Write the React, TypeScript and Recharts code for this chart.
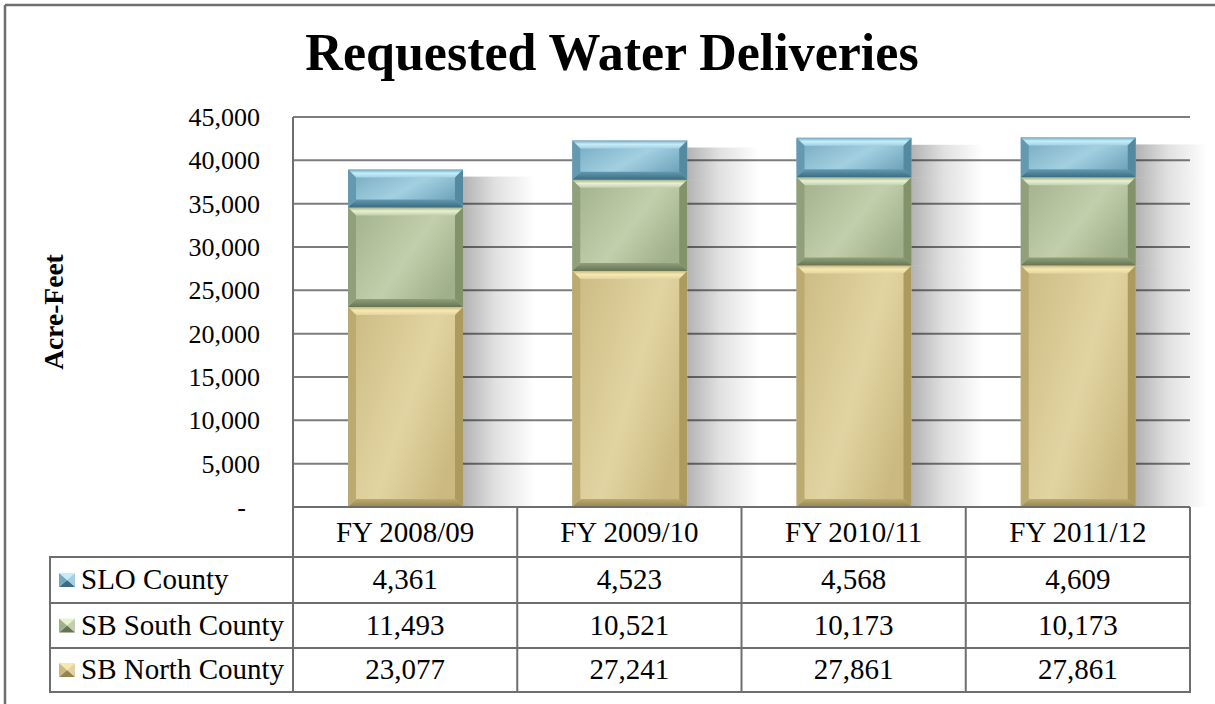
import React from 'react';
import { BarChart, Bar, XAxis, YAxis, CartesianGrid } from 'recharts';

const years = ['FY 2008/09', 'FY 2009/10', 'FY 2010/11', 'FY 2011/12'];
const sloCounty = [4361, 4523, 4568, 4609];
const sbSouthCounty = [11493, 10521, 10173, 10173];
const sbNorthCounty = [23077, 27241, 27861, 27861];
const yTicks = [0, 5000, 10000, 15000, 20000, 25000, 30000, 35000, 40000, 45000];

const FONT = '"Liberation Serif", "Times New Roman", serif';
const LINE = '#6e6e6e';

const W = 1215;
const H = 704;
const PLOT_LEFT = 293;
const PLOT_RIGHT = 1190;
const PLOT_TOP = 117;
const PLOT_BOTTOM = 507;
const X_AXIS_H = 50;

const palettes: Record<string, any> = {
  slo: { face1: '#72a7be', face2: '#a3d0e1', top: '#c6eefa', left: '#639ab1', right: '#5489a0', bottom: '#3b6c81' },
  south: { face1: '#a0b08b', face2: '#c2cfac', top: '#e8f2d2', left: '#90a07b', right: '#82926b', bottom: '#667453' },
  north: { face1: '#cbb980', face2: '#e2d4a2', top: '#f6e9af', left: '#bcaa70', right: '#ad9a5f', bottom: '#96844e' },
};

const data = years.map((year, i) => ({
  year,
  north: sbNorthCounty[i],
  south: sbSouthCounty[i],
  slo: sloCounty[i],
}));

const tableRows = [
  { key: 'slo', label: 'SLO County', values: sloCounty },
  { key: 'south', label: 'SB South County', values: sbSouthCounty },
  { key: 'north', label: 'SB North County', values: sbNorthCounty },
];

const fmt = (v: number) => v.toLocaleString('en-US');

// beveled segment, like the Excel "bevel" bar effect, with a soft shadow to the right
const bevelShape = (id: string, isTop: boolean) => (props: any) => {
  const { x, y, width: w, height: h } = props;
  if (!h || h <= 0) return <g />;
  const b = Math.min(8, h / 3);
  const sy = isTop ? y + 7 : y;
  return (
    <g>
      <rect x={x + w} y={sy} width={72} height={y + h - sy} fill="url(#shadowGrad)" />
      <rect x={x} y={y} width={w} height={h} fill={`url(#face-${id})`} />
      <polygon points={`${x},${y} ${x + w},${y} ${x + w - b},${y + b} ${x + b},${y + b}`} fill={`url(#top-${id})`} />
      <polygon points={`${x},${y} ${x + b},${y + b} ${x + b},${y + h - b} ${x},${y + h}`} fill={palettes[id].left} />
      <polygon points={`${x + w},${y} ${x + w},${y + h} ${x + w - b},${y + h - b} ${x + w - b},${y + b}`} fill={palettes[id].right} />
      <polygon points={`${x},${y + h} ${x + b},${y + h - b} ${x + w - b},${y + h - b} ${x + w},${y + h}`} fill={`url(#bot-${id})`} />
    </g>
  );
};

const YTick = (props: any) => {
  const { x, y, payload } = props;
  const zero = payload.value === 0;
  return (
    <text x={zero ? x - 14 : x} y={y} dy="0.35em" textAnchor="end" fontFamily={FONT} fontSize={26} fill="#000">
      {zero ? '-' : fmt(payload.value)}
    </text>
  );
};

const XTick = (props: any) => {
  const { x, y, payload } = props;
  return (
    <text x={x} y={y} dy={35} textAnchor="middle" fontFamily={FONT} fontSize={29} fill="#000">
      {payload.value}
    </text>
  );
};

const LegendIcon = ({ x, y, id }: { x: number; y: number; id: string }) => {
  const p = palettes[id];
  const w = 16;
  const h = 14;
  const cx = x + w / 2;
  const cy = y + h / 2;
  return (
    <g>
      <polygon points={`${x},${y} ${x + w},${y} ${cx},${cy}`} fill={p.top} />
      <polygon points={`${x + w},${y} ${x + w},${y + h} ${cx},${cy}`} fill={p.face2} />
      <polygon points={`${x},${y + h} ${x + w},${y + h} ${cx},${cy}`} fill={p.bottom} />
      <polygon points={`${x},${y} ${x},${y + h} ${cx},${cy}`} fill={p.face1} />
    </g>
  );
};

const DataTable = () => {
  const colW = (PLOT_RIGHT - PLOT_LEFT) / years.length;
  const headerTop = 508;
  const rowTops = [557, 603, 648];
  const rowBottoms = [603, 648, 692];
  const tableBottom = 692;
  return (
    <g>
      {years.map((_, i) => (
        <line key={'v' + i} x1={PLOT_LEFT + colW * (i + 1)} y1={headerTop - 1} x2={PLOT_LEFT + colW * (i + 1)} y2={tableBottom} stroke={LINE} strokeWidth={2} />
      ))}
      <line x1={PLOT_LEFT} y1={headerTop - 1} x2={PLOT_LEFT} y2={tableBottom} stroke={LINE} strokeWidth={2} />
      <line x1={50} y1={557} x2={50} y2={tableBottom} stroke={LINE} strokeWidth={2} />
      <line x1={49} y1={557} x2={PLOT_RIGHT + 1} y2={557} stroke={LINE} strokeWidth={2} />
      {rowBottoms.map((yb) => (
        <line key={'h' + yb} x1={49} y1={yb} x2={PLOT_RIGHT + 1} y2={yb} stroke={LINE} strokeWidth={2} />
      ))}
      {tableRows.map((row, r) => {
        const mid = (rowTops[r] + rowBottoms[r]) / 2;
        return (
          <g key={row.key}>
            <LegendIcon x={59} y={mid - 7} id={row.key} />
            <text x={81} y={mid + 9} fontFamily={FONT} fontSize={29} fill="#000">
              {row.label}
            </text>
            {row.values.map((v, i) => (
              <text key={i} x={PLOT_LEFT + colW * (i + 0.5)} y={mid + 9} textAnchor="middle" fontFamily={FONT} fontSize={29} fill="#000">
                {fmt(v)}
              </text>
            ))}
          </g>
        );
      })}
    </g>
  );
};

const gradDefs = (id: string) => {
  const p = palettes[id];
  return (
    <React.Fragment key={id}>
      <linearGradient id={`face-${id}`} x1="0" y1="0" x2="1" y2="0.6">
        <stop offset="0%" stopColor={p.face1} />
        <stop offset="60%" stopColor={p.face2} />
        <stop offset="100%" stopColor={p.face1} />
      </linearGradient>
      <linearGradient id={`top-${id}`} x1="0" y1="0" x2="0" y2="1">
        <stop offset="0%" stopColor={p.face1} />
        <stop offset="45%" stopColor={p.top} />
        <stop offset="100%" stopColor={p.face2} />
      </linearGradient>
      <linearGradient id={`bot-${id}`} x1="0" y1="0" x2="0" y2="1">
        <stop offset="0%" stopColor={p.left} />
        <stop offset="100%" stopColor={p.bottom} />
      </linearGradient>
    </React.Fragment>
  );
};

export default function App() {
  return (
    <div style={{ position: 'absolute', left: 0, top: 0, width: W, height: H, background: '#fff', overflow: 'hidden' }}>
      <BarChart
        width={W}
        height={H}
        data={data}
        margin={{ top: PLOT_TOP, right: W - PLOT_RIGHT, left: 0, bottom: H - PLOT_BOTTOM - X_AXIS_H }}
      >
        <defs>
          {['slo', 'south', 'north'].map(gradDefs)}
          <linearGradient id="shadowGrad" x1="0" y1="0" x2="1" y2="0">
            <stop offset="0%" stopColor="#000" stopOpacity={0.3} />
            <stop offset="45%" stopColor="#000" stopOpacity={0.12} />
            <stop offset="100%" stopColor="#000" stopOpacity={0} />
          </linearGradient>
        </defs>
        <CartesianGrid vertical={false} stroke="#7d7d7d" strokeWidth={2} />
        <XAxis
          dataKey="year"
          height={X_AXIS_H}
          axisLine={{ stroke: LINE, strokeWidth: 2 }}
          tickLine={false}
          tickSize={0}
          tickMargin={0}
          tick={<XTick />}
          interval={0}
        />
        <YAxis
          width={PLOT_LEFT}
          domain={[0, 45000]}
          ticks={yTicks}
          axisLine={{ stroke: LINE, strokeWidth: 2 }}
          tickLine={false}
          tickSize={0}
          tickMargin={33}
          tick={<YTick />}
          interval={0}
        />
        <Bar dataKey="north" stackId="a" barSize={115} shape={bevelShape('north', false)} isAnimationActive={false} />
        <Bar dataKey="south" stackId="a" barSize={115} shape={bevelShape('south', false)} isAnimationActive={false} />
        <Bar dataKey="slo" stackId="a" barSize={115} shape={bevelShape('slo', true)} isAnimationActive={false} />
      </BarChart>
      <svg width={W} height={H} style={{ position: 'absolute', left: 0, top: 0, pointerEvents: 'none' }}>
        <line x1={5} y1={5} x2={W} y2={5} stroke={LINE} strokeWidth={2.5} />
        <line x1={5} y1={5} x2={5} y2={H} stroke={LINE} strokeWidth={2.5} />
        <text x={612} y={70} textAnchor="middle" fontFamily={FONT} fontWeight="bold" fontSize={52} fill="#000">
          Requested Water Deliveries
        </text>
        <text
          x={63}
          y={312}
          textAnchor="middle"
          transform="rotate(-90, 63, 312)"
          fontFamily={FONT}
          fontWeight="bold"
          fontSize={27.5}
          fill="#000"
        >
          Acre-Feet
        </text>
        <DataTable />
      </svg>
    </div>
  );
}
